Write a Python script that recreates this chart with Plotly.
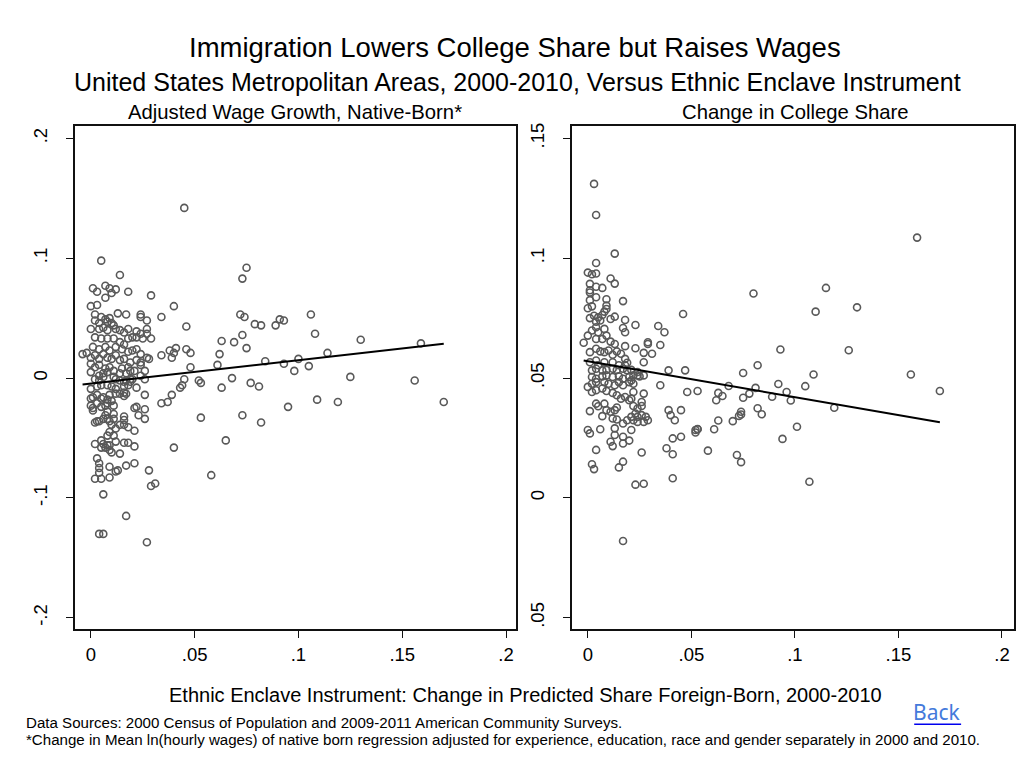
import plotly.graph_objects as go

# ---------------- data ----------------
# Left panel: instrument (x) vs adjusted wage growth of native-born (y)
wage_x = [
    0.045, 0.005, 0.014, 0.075, 0.073,
    0.001, 0.003, 0.007, 0.009, 0.010, 0.012, 0.007, 0.018, 0.029, 0.040, 0.000, 0.003,
    0.002, 0.005, 0.007, 0.002, 0.004, 0.008, 0.010, 0.009,
    0.013, 0.017, 0.024, 0.024, 0.027, 0.034, 0.046,
    0.072, 0.074, 0.079, 0.082, 0.089, 0.091, 0.093, 0.106, 0.108, 0.073, 0.063, 0.069,
    0.075, 0.062, 0.061, 0.084, 0.093, 0.100, 0.098, 0.105, 0.114, 0.130, 0.159, 0.125,
    0.156, 0.170, 0.119, 0.109, 0.095, 0.082, 0.073, 0.077, 0.081, 0.068, 0.063, 0.052,
    0.053, 0.053, 0.065, 0.058, 0.048, 0.048,
    0.046, 0.034, 0.038, 0.040, 0.041, 0.039, 0.028, 0.026, 0.045, -0.004,
    0.043, 0.044, 0.039, 0.037, 0.034, 0.026, 0.026, 0.026, 0.023, 0.021, 0.022, 0.022,
    0.026, 0.040, 0.021, 0.018, 0.016, 0.016, 0.016, 0.021, 0.018, 0.016, 0.014, 0.012,
    0.010, 0.009, 0.021, 0.017, 0.013, 0.012, 0.009, 0.028, 0.029, 0.031, 0.003, 0.004,
    0.004, 0.004, 0.002, 0.005, 0.009, 0.006, 0.017, 0.004, 0.006, 0.027,
    0.002, 0.005, 0.006, 0.005, 0.007, 0.008, 0.009,
    0.008, 0.009, 0.011, 0.012, 0.010, 0.014,
    0.002, 0.003, 0.004, 0.006, 0.008, 0.009, 0.007, 0.008, 0.011, 0.011,
    0.001, 0.001, 0.000, 0.003, 0.005, 0.007, 0.008, 0.010, 0.011,
    0.000, 0.001, 0.003, 0.005, 0.006, 0.008, 0.009, 0.012, 0.014, 0.016, 0.017,
    0.000, 0.003, 0.005, 0.008, 0.010, 0.012, 0.016, 0.018, 0.019, 0.017, 0.016,
    0.020, 0.012, 0.006, 0.002,
    0.000, 0.004, 0.006, 0.008, 0.011, 0.012, 0.014, 0.016, 0.018, 0.022, 0.024, 0.027,
    0.027, 0.029,
    0.002, 0.005, 0.008, 0.011, 0.014, 0.016, 0.018, 0.020, 0.022, 0.025,
    0.001, 0.004, 0.007, 0.009, 0.012, 0.015, 0.018, 0.020, 0.022, 0.024, 0.027,
    -0.002, 0.000, 0.002, 0.004, 0.006, 0.008, 0.010, 0.012, 0.014, 0.016, 0.019, 0.022,
    0.024,
    0.000, 0.002, 0.004, 0.007, 0.009, 0.011, 0.015, 0.018, 0.021, 0.024,
    0.000, 0.004, 0.006, 0.008, 0.011, 0.014, 0.017, 0.019, 0.024,
    0.004, 0.014, 0.019, 0.016,
]
wage_y = [
    0.142, 0.098, 0.086, 0.092, 0.083,
    0.075, 0.072, 0.077, 0.075, 0.071, 0.074, 0.067, 0.072, 0.069, 0.060, 0.060, 0.061,
    0.053, 0.051, 0.049, 0.048, 0.046, 0.047, 0.046, 0.050,
    0.054, 0.053, 0.053, 0.051, 0.048, 0.051, 0.043,
    0.053, 0.051, 0.045, 0.044, 0.044, 0.049, 0.048, 0.053, 0.037, 0.036, 0.031, 0.030,
    0.025, 0.020, 0.011, 0.014, 0.012, 0.016, 0.006, 0.010, 0.021, 0.032, 0.029, 0.001,
    -0.002, -0.020, -0.020, -0.018, -0.024, -0.037, -0.031, -0.004, -0.007, 0.000, -0.008, -0.002,
    -0.004, -0.033, -0.052, -0.081, 0.021, 0.009,
    0.024, 0.019, 0.023, 0.021, 0.025, 0.017, 0.016, 0.006, -0.001, 0.020,
    -0.008, -0.006, -0.014, -0.020, -0.021, -0.014, -0.026, -0.034, -0.031, -0.025, -0.024, -0.008,
    -0.001, -0.058, -0.044, -0.041, -0.039, -0.035, -0.032, -0.057, -0.054, -0.054, -0.063, -0.053,
    -0.062, -0.060, -0.071, -0.073, -0.077, -0.078, -0.074, -0.077, -0.090, -0.088, -0.067, -0.071,
    -0.075, -0.079, -0.084, -0.084, -0.083, -0.097, -0.115, -0.130, -0.130, -0.137,
    -0.055, -0.052, -0.055, -0.058, -0.058, -0.056, -0.056,
    -0.048, -0.045, -0.048, -0.042, -0.039, -0.039,
    -0.037, -0.036, -0.036, -0.034, -0.034, -0.036, -0.031, -0.028, -0.030, -0.034,
    -0.025, -0.027, -0.023, -0.021, -0.024, -0.023, -0.021, -0.019, -0.023,
    -0.017, -0.016, -0.014, -0.017, -0.016, -0.018, -0.014, -0.013, -0.013, -0.015, -0.013,
    -0.009, -0.007, -0.006, -0.006, -0.007, -0.009, -0.007, -0.006, -0.003, -0.002, -0.003,
    -0.001, -0.001, 0.001, -0.001,
    0.041, 0.041, 0.042, 0.040, 0.044, 0.041, 0.040, 0.038, 0.041, 0.039, 0.037, 0.041,
    0.037, 0.033,
    0.034, 0.033, 0.033, 0.033, 0.030, 0.028, 0.033, 0.034, 0.034, 0.033,
    0.026, 0.024, 0.026, 0.023, 0.026, 0.024, 0.022, 0.023, 0.024, 0.020, 0.017,
    0.021, 0.017, 0.019, 0.016, 0.020, 0.017, 0.016, 0.019, 0.015, 0.016, 0.013, 0.015,
    0.013,
    0.012, 0.009, 0.011, 0.008, 0.009, 0.006, 0.008, 0.009, 0.006, 0.011,
    0.005, 0.002, 0.004, 0.005, 0.001, 0.004, 0.004, 0.006, 0.002,
    -0.002, -0.002, -0.001, -0.012,
]

# Right panel: instrument (x) vs change in college share (y)
coll_x = [
    0.003, 0.004, 0.013, 0.004, 0.000, 0.002, 0.004, 0.001, 0.004, 0.007, 0.011, 0.013,
    0.001, 0.001, 0.004, 0.001, 0.002, 0.000, 0.009, 0.009, 0.009, 0.008, 0.017,
    0.001, 0.003, 0.005, 0.004, 0.007, 0.006, 0.011, 0.013, 0.018, 0.023, 0.034, 0.037,
    0.046, 0.017, 0.018,
    0.000, 0.002, 0.004, 0.005, 0.008, 0.009, 0.004, 0.007, -0.002, 0.011, 0.013, 0.018,
    0.029, 0.029, 0.035, 0.023,
    0.001, 0.004, 0.006, 0.008, 0.010, 0.012, 0.014, 0.016, 0.018, 0.001, 0.004, 0.005,
    0.008, 0.012, 0.015, 0.018, 0.019, 0.027, 0.027, 0.031, 0.039, 0.047, 0.024, 0.027,
    0.002, 0.004, 0.007, 0.009, 0.012, 0.014, 0.017, 0.019, 0.021, 0.024, 0.022,
    0.002, 0.004, 0.007, 0.009, 0.012, 0.015, 0.017, 0.020, 0.021, 0.025,
    0.000, 0.002, 0.004, 0.008, 0.010, 0.013, 0.015, 0.017, 0.020, 0.022, 0.035,
    0.002, 0.004, 0.007, 0.009, 0.012, 0.014, 0.016, 0.018, 0.020, 0.021, 0.022, 0.027,
    0.026, 0.026, 0.022, 0.024,
    0.004, 0.005, 0.001, 0.008, 0.007, 0.009, 0.011, 0.013, 0.014, 0.012, 0.014, 0.019,
    0.017, 0.021, 0.023, 0.024, 0.026, 0.028, 0.029, 0.027, 0.024, 0.022,
    0.000, 0.001, 0.006, 0.013, 0.021, 0.011, 0.012, 0.013, 0.017, 0.017, 0.020, 0.004,
    0.026,
    0.002, 0.003, 0.017, 0.015, 0.023, 0.027,
    0.039, 0.040, 0.045, 0.042, 0.041, 0.038, 0.041, 0.045, 0.041,
    0.017, 0.048, 0.052, 0.053, 0.052,
    0.159, 0.115, 0.080, 0.110, 0.130, 0.093, 0.126, 0.082, 0.075, 0.109, 0.156, 0.170,
    0.068, 0.092, 0.105, 0.081, 0.078, 0.096, 0.098, 0.089, 0.075, 0.063, 0.065, 0.062,
    0.053, 0.119, 0.082, 0.084, 0.074, 0.074, 0.073, 0.070, 0.063, 0.061, 0.053, 0.101,
    0.094, 0.058, 0.072, 0.074, 0.107,
]
coll_y = [
    0.1310, 0.1180, 0.1019, 0.0980, 0.0940, 0.0933, 0.0936, 0.0893, 0.0881, 0.0876, 0.0915, 0.0894,
    0.0866, 0.0857, 0.0837, 0.0825, 0.0799, 0.0791, 0.0829, 0.0802, 0.0788, 0.0777, 0.0821,
    0.0750, 0.0760, 0.0753, 0.0735, 0.0763, 0.0740, 0.0746, 0.0756, 0.0742, 0.0721, 0.0717, 0.0691,
    0.0767, 0.0709, 0.0691,
    0.0677, 0.0698, 0.0712, 0.0691, 0.0705, 0.0677, 0.0663, 0.0663, 0.0647, 0.0652, 0.0642, 0.0633,
    0.0642, 0.0649, 0.0638, 0.0624,
    0.0608, 0.0622, 0.0611, 0.0608, 0.0615, 0.0597, 0.0611, 0.0601, 0.0580, 0.0566, 0.0573, 0.0553,
    0.0566, 0.0566, 0.0553, 0.0553, 0.0564, 0.0605, 0.0566, 0.0601, 0.0532, 0.0532, 0.0511, 0.0511,
    0.0532, 0.0539, 0.0532, 0.0534, 0.0539, 0.0534, 0.0539, 0.0532, 0.0534, 0.0525, 0.0511,
    0.0504, 0.0497, 0.0507, 0.0511, 0.0504, 0.0507, 0.0497, 0.0504, 0.0490, 0.0507,
    0.0463, 0.0476, 0.0483, 0.0483, 0.0476, 0.0470, 0.0483, 0.0470, 0.0483, 0.0476, 0.0470,
    0.0442, 0.0449, 0.0456, 0.0446, 0.0438, 0.0428, 0.0414, 0.0421, 0.0407, 0.0414, 0.0442, 0.0435,
    0.0400, 0.0383, 0.0383, 0.0373,
    0.0393, 0.0382, 0.0362, 0.0393, 0.0341, 0.0366, 0.0359, 0.0366, 0.0377, 0.0331, 0.0327, 0.0324,
    0.0310, 0.0338, 0.0352, 0.0338, 0.0345, 0.0338, 0.0324, 0.0317, 0.0317, 0.0324,
    0.0283, 0.0269, 0.0286, 0.0290, 0.0283, 0.0234, 0.0216, 0.0262, 0.0255, 0.0227, 0.0239, 0.0200,
    0.0189,
    0.0140, 0.0120, 0.0151, 0.0127, 0.0055, 0.0059,
    0.0366, 0.0345, 0.0366, 0.0324, 0.0248, 0.0207, 0.0182, 0.0255, 0.0082,
    -0.0180, 0.0442, 0.0283, 0.0287, 0.0273,
    0.1086, 0.0876, 0.0853, 0.0777, 0.0795, 0.0619, 0.0616, 0.0553, 0.0521, 0.0515, 0.0515, 0.0446,
    0.0467, 0.0475, 0.0466, 0.0459, 0.0435, 0.0442, 0.0406, 0.0422, 0.0418, 0.0438, 0.0425, 0.0407,
    0.0446, 0.0376, 0.0374, 0.0349, 0.0359, 0.0348, 0.0342, 0.0320, 0.0323, 0.0286, 0.0286, 0.0297,
    0.0246, 0.0197, 0.0179, 0.0149, 0.0067,
]

# Fitted regression lines (intercept, slope)
wage_fit = (-0.0046, 0.195)
coll_fit = (0.0570, -0.150)

x_tickvals = [0, 0.05, 0.1, 0.15, 0.2]
x_ticktext = ["0", ".05", ".1", ".15", ".2"]
wage_tickvals = [-0.2, -0.1, 0, 0.1, 0.2]
wage_ticktext = ["-.2", "-.1", "0", ".1", ".2"]
coll_tickvals = [-0.05, 0, 0.05, 0.1, 0.15]
coll_ticktext = [".05", "0", ".05", ".1", ".15"]

title = "Immigration Lowers College Share but Raises Wages"
subtitle = "United States Metropolitan Areas, 2000-2010, Versus Ethnic Enclave Instrument"
left_title = "Adjusted Wage Growth, Native-Born*"
right_title = "Change in College Share"
x_title = "Ethnic Enclave Instrument: Change in Predicted Share Foreign-Born, 2000-2010"
note1 = "Data Sources: 2000 Census of Population and 2009-2011 American Community Surveys."
note2 = ("*Change in Mean ln(hourly wages) of native born regression adjusted for experience, "
         "education, race and gender separately in 2000 and 2010.")

# ---------------- figure ----------------
FONT = "Liberation Sans, Arial, Helvetica, sans-serif"
OFF = 8                      # default page body margin
W, H = 1024 - 2 * OFF, 768 - 2 * OFF
MARK = dict(symbol="circle-open", size=7, color="#595959", line=dict(width=1.6, color="#595959"))


def fx(p):  # window pixel -> paper x
    return (p - OFF) / W


def fy(p):  # window pixel -> paper y
    return 1 - (p - OFF) / H


fig = go.Figure()

fig.add_trace(go.Scatter(x=wage_x, y=wage_y, mode="markers", marker=MARK,
                         xaxis="x", yaxis="y", showlegend=False, hoverinfo="x+y"))
wx = [min(wage_x), max(wage_x)]
fig.add_trace(go.Scatter(x=wx, y=[wage_fit[0] + wage_fit[1] * v for v in wx], mode="lines",
                         line=dict(color="black", width=2), xaxis="x", yaxis="y",
                         showlegend=False, hoverinfo="skip"))

fig.add_trace(go.Scatter(x=coll_x, y=coll_y, mode="markers", marker=MARK,
                         xaxis="x2", yaxis="y2", showlegend=False, hoverinfo="x+y"))
cx = [min(coll_x), max(coll_x)]
fig.add_trace(go.Scatter(x=cx, y=[coll_fit[0] + coll_fit[1] * v for v in cx], mode="lines",
                         line=dict(color="black", width=2), xaxis="x2", yaxis="y2",
                         showlegend=False, hoverinfo="skip"))

ydom = [fy(628), fy(123)]
axis_common = dict(showgrid=False, zeroline=False, showline=True, linecolor="#111111",
                   linewidth=1.5, mirror=True, ticks="outside", tickcolor="#111111",
                   tickwidth=1.3, tickfont=dict(family=FONT, size=18.5, color="black"))

fig.update_layout(
    width=W, height=H, autosize=False,
    margin=dict(l=0, r=0, t=0, b=0),
    paper_bgcolor="white", plot_bgcolor="white",
    font=dict(family=FONT, color="black"),
    xaxis=dict(domain=[fx(75), fx(517)], range=[-0.0077, 0.2048], anchor="y",
               tickvals=x_tickvals, ticktext=x_ticktext, ticklen=8, **axis_common),
    yaxis=dict(domain=ydom, range=[-0.2091, 0.2100], anchor="x",
               tickvals=wage_tickvals, ticktext=wage_ticktext, ticklen=7, tickangle=-90,
               ticklabelstandoff=12, **axis_common),
    xaxis2=dict(domain=[fx(573), fx(1016)], range=[-0.0077, 0.2058], anchor="y2",
                tickvals=x_tickvals, ticktext=x_ticktext, ticklen=8, **axis_common),
    yaxis2=dict(domain=ydom, range=[-0.0546, 0.1550], anchor="x2",
                tickvals=coll_tickvals, ticktext=coll_ticktext, ticklen=7, tickangle=-90,
                ticklabelstandoff=12, **axis_common),
)


def px_ann(text, x, y, size, xanchor="center", color="black", family=FONT):
    fig.add_annotation(text=text, x=fx(x), y=fy(y), xref="paper", yref="paper",
                       xanchor=xanchor, yanchor="middle", showarrow=False,
                       font=dict(family=family, size=size, color=color))


px_ann(title, 516, 44, 27.5)
px_ann(subtitle, 519, 78, 25)
px_ann(left_title, 296, 109, 20.3)
px_ann(right_title, 797, 109, 20.3)
px_ann(x_title, 527, 695, 20)
px_ann(note1, 24, 722, 15.1, xanchor="left")
px_ann(note2, 24, 739, 15.1, xanchor="left")
px_ann('<a href="#">Back</a>', 939, 712, 21, color="#0000ee", family="Noto Sans, Liberation Sans, sans-serif")
fig.add_shape(type="line", xref="paper", yref="paper", x0=fx(916), x1=fx(963),
              y0=fy(724), y1=fy(724), line=dict(color="#0000ee", width=1.5))

fig.write_html("out.html")
